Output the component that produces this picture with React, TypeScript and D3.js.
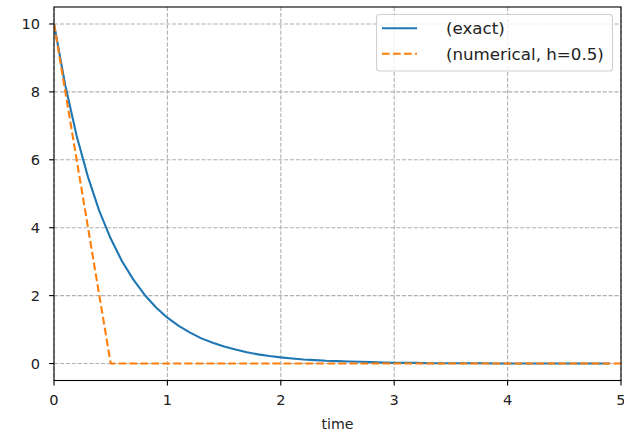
import React from "react";
import * as d3 from "d3";

const exactT = [0,0.1,0.2,0.3,0.4,0.5,0.6,0.7,0.8,0.9,1.0,1.1,1.2,1.3,1.4,1.5,1.6,1.7,1.8,1.9,2.0,2.1,2.2,2.3,2.4,2.5,2.6,2.7,2.8,2.9,3.0,3.1,3.2,3.3,3.4,3.5,3.6,3.7,3.8,3.9,4.0,4.1,4.2,4.3,4.4,4.5,4.6,4.7,4.8,4.9];
const exactY = [10,8.19,6.70,5.49,4.49,3.68,3.01,2.47,2.02,1.65,1.35,1.11,0.91,0.74,0.61,0.50,0.41,0.33,0.27,0.22,0.18,0.15,0.12,0.10,0.08,0.07,0.06,0.05,0.04,0.03,0.02,0.02,0.02,0.01,0.01,0.01,0.01,0.01,0.01,0.0,0,0,0,0,0,0,0,0,0,0];
const numT = [0,0.5,1.0,1.5,2.0,2.5,3.0,3.5,4.0,4.5,5.0];
const numY = [10,0,0,0,0,0,0,0,0,0,0];
const xTicks = [0,1,2,3,4,5];
const yTicks = [0,2,4,6,8,10];
const legendLabels = ["   (exact)", "   (numerical, h=0.5)"];
const xLabel = "time";

export default function App() {
  const W = 624, H = 431;
  const L = 54, R = 621, T = 7, B = 380.5;
  const x = d3.scaleLinear().domain([0, 5]).range([L, R]);
  const y = d3.scaleLinear().domain([-0.5, 10.5]).range([B, T]);
  const line = d3.line<[number, number]>().x(d => x(d[0])).y(d => y(d[1]));
  const exactPath = line(exactT.map((t, i) => [t, exactY[i]]))!;
  const numPath = line(numT.map((t, i) => [t, numY[i]]))!;
  const font = "DejaVu Sans, sans-serif";
  const fs = 14.6;
  const lfs = 16.7;
  const gridColor = "#b0b0b0";
  return (
    <svg width={W} height={H} style={{ position: "absolute", left: 0, top: 0 }} fontFamily={font}>
      <rect width={W} height={H} fill="#fff" />
      <defs>
        <clipPath id="clip"><rect x={L} y={T} width={R - L} height={B - T} /></clipPath>
      </defs>
      {xTicks.map(t => (
        <line key={"gx" + t} x1={x(t)} x2={x(t)} y1={T} y2={B} stroke={gridColor} strokeWidth={1.1} strokeDasharray="4.1,1.8" />
      ))}
      {yTicks.map(t => (
        <line key={"gy" + t} x1={L} x2={R} y1={y(t)} y2={y(t)} stroke={gridColor} strokeWidth={1.1} strokeDasharray="4.1,1.8" />
      ))}
      <g clipPath="url(#clip)">
        <path d={exactPath} fill="none" stroke="#1f77b4" strokeWidth={2.1} strokeLinejoin="round" strokeLinecap="butt" />
        <path d={numPath} fill="none" stroke="#ff7f0e" strokeWidth={2.1} strokeDasharray="7.7,3.3" />
      </g>
      <rect x={L} y={T} width={R - L} height={B - T} fill="none" stroke="#000" strokeWidth={1.1} />
      {xTicks.map(t => (
        <g key={"tx" + t}>
          <line x1={x(t)} x2={x(t)} y1={B} y2={B + 4.9} stroke="#000" strokeWidth={1.1} />
          <text x={x(t)} y={B + 24.5} textAnchor="middle" fontSize={fs} fill="#222">{t}</text>
        </g>
      ))}
      {yTicks.map(t => (
        <g key={"ty" + t}>
          <line x1={L - 4.9} x2={L} y1={y(t)} y2={y(t)} stroke="#000" strokeWidth={1.1} />
          <text x={L - 14} y={y(t)} dy="0.36em" textAnchor="end" fontSize={fs} fill="#222">{t}</text>
        </g>
      ))}
      <text x={(L + R) / 2} y={429} textAnchor="middle" fontSize={14.2} fill="#222">{xLabel}</text>
      <g>
        <rect x={376.5} y={14.5} width={236} height={56.5} rx={3} fill="#fff" fillOpacity={0.8} stroke="#d0d0d0" strokeWidth={1.1} />
        {legendLabels.map((lab, i) => {
          const yy = 28.3 + i * 25.5;
          return (
            <g key={lab}>
              <line x1={382} x2={417} y1={yy} y2={yy} stroke={i === 0 ? "#1f77b4" : "#ff7f0e"} strokeWidth={2.1} strokeDasharray={i === 0 ? undefined : "7.7,3.3"} />
              <text x={430} y={yy} dy="0.36em" fontSize={lfs} fill="#222" xmlSpace="preserve" style={{ whiteSpace: "pre" }}>{lab}</text>
            </g>
          );
        })}
      </g>
    </svg>
  );
}
